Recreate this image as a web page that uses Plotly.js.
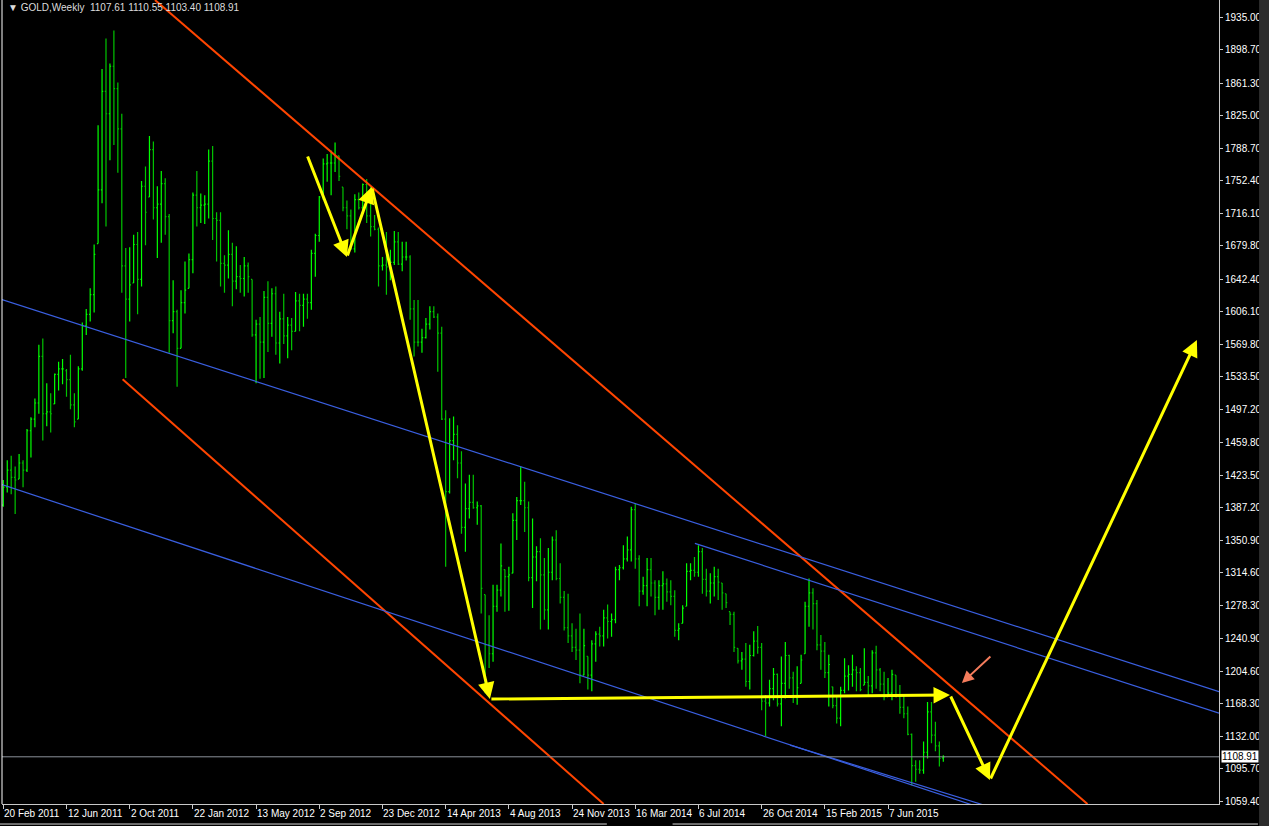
<!DOCTYPE html>
<html><head><meta charset="utf-8">
<script src="https://cdn.plot.ly/plotly-3.0.1.min.js"></script>
<style>html,body{margin:0;padding:0;background:#000;overflow:hidden}#chart{width:1269px;height:826px}</style>
</head><body><div id="chart"></div>
<script>
// Weekly GOLD bars, week 0 = 20 Feb 2011
const barOpen = [
1390,1410,1429,1421,1419,1437,1429,1473,1486,1504,
1556,1492,1494,1503,1536,1542,1540,1530,1502,1486,
1542,1590,1603,1625,1682,1742,1852,1827,1880,1855,
1810,1657,1620,1638,1681,1642,1746,1734,1787,1722,
1726,1749,1712,1596,1606,1565,1616,1632,1664,1736,
1722,1725,1726,1774,1710,1708,1660,1658,1670,1640,
1645,1643,1657,1642,1580,1592,1572,1622,1593,1626,
1571,1598,1579,1591,1584,1618,1613,1620,1616,1671,
1691,1734,1771,1772,1772,1780,1745,1722,1713,1676,
1731,1722,1748,1713,1701,1698,1657,1658,1656,1661,
1684,1659,1667,1667,1609,1572,1572,1577,1592,1606,
1600,1582,1486,1405,1462,1469,1437,1365,1386,1393,
1387,1389,1290,1234,1224,1277,1295,1318,1310,1314,
1373,1395,1395,1387,1309,1332,1338,1312,1273,1315,
1351,1308,1287,1253,1244,1231,1228,1200,1221,1200,
1235,1246,1244,1264,1260,1262,1318,1320,1330,1340,
1385,1330,1294,1300,1318,1303,1287,1300,1302,1293,
1288,1250,1258,1277,1316,1317,1315,1338,1307,1294,
1303,1310,1303,1291,1271,1268,1230,1216,1218,1193,
1222,1238,1231,1171,1169,1185,1201,1168,1191,1222,
1197,1175,1191,1224,1277,1292,1280,1234,1227,1203,
1187,1166,1152,1183,1199,1201,1206,1203,1189,1192,
1188,1225,1206,1190,1176,1180,1200,1176,1164,1157,
1134,1099,1095,1094,1114,1159,1133,1121,1107.61];
const barHigh = [
1418,1440,1445,1433,1447,1440,1475,1488,1509,1569,
1576,1526,1515,1537,1550,1553,1542,1558,1515,1545,
1594,1609,1632,1681,1814,1877,1911,1883,1920,1862,
1827,1677,1678,1692,1695,1752,1768,1802,1796,1746,
1763,1755,1715,1641,1608,1630,1662,1671,1739,1763,
1738,1736,1787,1791,1717,1717,1669,1697,1683,1679,
1658,1667,1661,1642,1597,1600,1629,1640,1632,1634,
1606,1626,1600,1599,1628,1626,1626,1626,1675,1693,
1735,1777,1782,1786,1795,1780,1745,1730,1720,1737,
1739,1749,1754,1746,1714,1700,1667,1695,1675,1696,
1695,1684,1684,1669,1619,1619,1587,1599,1612,1612,
1604,1589,1496,1487,1489,1479,1450,1414,1424,1424,
1394,1390,1290,1267,1301,1301,1347,1318,1321,1381,
1399,1433,1416,1394,1375,1344,1353,1331,1342,1355,
1362,1325,1294,1291,1258,1252,1269,1252,1221,1239,
1249,1254,1273,1279,1269,1321,1323,1345,1355,1388,
1392,1334,1310,1331,1331,1306,1306,1316,1308,1306,
1295,1258,1278,1325,1325,1332,1345,1342,1319,1314,
1321,1319,1303,1291,1271,1271,1230,1226,1236,1234,
1249,1255,1236,1178,1195,1208,1202,1221,1237,1223,
1204,1210,1223,1282,1308,1297,1284,1245,1237,1223,
1187,1176,1187,1219,1211,1223,1210,1208,1230,1199,
1228,1233,1208,1204,1197,1206,1200,1189,1178,1165,
1135,1105,1105,1126,1170,1170,1148,1126,1110.55];
const barLow = [
1388,1404,1402,1380,1419,1410,1427,1443,1477,1492,
1462,1478,1471,1503,1518,1525,1511,1497,1477,1486,
1540,1580,1595,1605,1682,1727,1701,1775,1792,1761,
1627,1532,1595,1638,1603,1634,1680,1734,1709,1666,
1683,1692,1560,1582,1522,1565,1604,1632,1649,1701,
1705,1704,1710,1686,1662,1634,1627,1643,1612,1631,
1627,1623,1627,1578,1526,1531,1532,1561,1578,1558,
1548,1570,1554,1563,1584,1584,1589,1598,1608,1645,
1684,1731,1751,1736,1762,1752,1718,1698,1675,1672,
1720,1718,1705,1690,1697,1634,1652,1625,1641,1658,
1658,1651,1663,1597,1556,1567,1560,1576,1586,1599,
1539,1485,1321,1403,1440,1420,1358,1338,1375,1386,
1368,1269,1180,1208,1215,1271,1288,1271,1272,1314,
1351,1390,1360,1305,1275,1305,1251,1262,1251,1306,
1306,1280,1250,1236,1226,1217,1191,1200,1184,1182,
1215,1232,1232,1241,1243,1258,1306,1318,1327,1327,
1319,1277,1290,1277,1288,1267,1273,1273,1282,1278,
1243,1239,1258,1277,1306,1310,1310,1291,1288,1280,
1288,1284,1273,1275,1256,1226,1213,1206,1187,1184,
1221,1224,1161,1132,1165,1172,1165,1143,1174,1185,
1169,1167,1191,1224,1254,1251,1228,1206,1197,1165,
1163,1146,1143,1180,1183,1187,1182,1182,1189,1176,
1180,1185,1182,1172,1176,1172,1175,1157,1152,1133,
1077,1081,1090,1090,1107,1124,1115,1098,1103.40];
const barClose = [
1410,1429,1421,1418,1437,1429,1473,1486,1504,1556,
1492,1494,1492,1536,1542,1542,1530,1502,1483,1542,
1590,1603,1625,1670,1742,1852,1827,1880,1855,1810,
1657,1620,1636,1681,1642,1746,1717,1787,1722,1726,
1749,1712,1596,1606,1565,1616,1630,1664,1736,1722,
1725,1726,1774,1710,1708,1660,1658,1670,1640,1645,
1643,1657,1645,1580,1592,1572,1622,1593,1626,1571,
1598,1579,1591,1584,1618,1613,1620,1616,1671,1691,
1734,1771,1772,1772,1780,1757,1722,1713,1676,1731,
1722,1748,1713,1701,1698,1657,1658,1656,1661,1684,
1659,1667,1667,1609,1572,1572,1577,1592,1606,1600,
1582,1486,1405,1462,1469,1437,1365,1386,1393,1387,
1389,1297,1234,1224,1277,1295,1322,1310,1312,1373,
1395,1395,1387,1309,1332,1338,1312,1273,1315,1351,
1308,1287,1253,1244,1231,1228,1200,1233,1200,1235,
1246,1244,1264,1260,1262,1318,1320,1330,1340,1385,
1330,1294,1300,1318,1303,1287,1300,1302,1293,1288,
1250,1252,1275,1316,1317,1315,1338,1307,1294,1303,
1310,1304,1292,1281,1268,1231,1216,1218,1193,1222,
1238,1231,1171,1169,1185,1201,1168,1191,1222,1197,
1175,1186,1217,1277,1292,1280,1234,1227,1203,1212,
1166,1152,1183,1199,1201,1206,1203,1184,1192,1188,
1225,1206,1190,1176,1180,1201,1176,1164,1157,1134,
1099,1095,1094,1114,1159,1133,1121,1107,1108.91];
const weekIdx = barClose.map((_, k) => k);

// Time axis labels (week index of each label)
const xLabelWeeks = [0,16,32,48,64,80,96,112,128,144,160,176,192,208,224];
const xLabels = ['20 Feb 2011','12 Jun 2011','2 Oct 2011','22 Jan 2012','13 May 2012','2 Sep 2012','23 Dec 2012','14 Apr 2013','4 Aug 2013','24 Nov 2013','16 Mar 2014','6 Jul 2014','26 Oct 2014','15 Feb 2015','7 Jun 2015'];
// Price axis labels
const yLabels = ['1935.00','1898.70','1861.30','1825.00','1788.70','1752.40','1716.10','1679.80','1642.40','1606.10','1569.80','1533.50','1497.20','1459.80','1423.50','1387.20','1350.90','1314.60','1278.30','1240.90','1204.60','1168.30','1132.00','1095.70','1059.40'];
const lastPrice = 1108.91;
const headerText = '\u25BC GOLD,Weekly  1107.61 1110.55 1103.40 1108.91';

// Drawn objects (week index, price)
const redLinesX = [[38.4, 274.5], [30.2, 152.0]];
const redLinesY = [[1954, 1056.2], [1530.4, 1056.2]];
const blueLinesX = [[-0.33, 307.8], [175.1, 307.8], [-0.33, 252.3], [199.2, 252.3]];
const blueLinesY = [[1619.4, 1181.7], [1347.3, 1157.7], [1412.8, 1045.0], [1122.0, 1049.5]];
const yellowPathX = [76.9, 87.0, 93.3, 123.2, 239.7, 249.8, 302.2];
const yellowPathY = [1780.9, 1667.0, 1745.2, 1173.4, 1177.9, 1083.0, 1574.3];
const coralArrowX = [250.3, 242.7];
const coralArrowY = [1222.5, 1191.3];

const trace = {
  type: 'ohlc', x: weekIdx, open: barOpen, high: barHigh, low: barLow, close: barClose,
  increasing: {line: {color: '#00ff00', width: 1.2}},
  decreasing: {line: {color: '#00c400', width: 1.2}},
  tickwidth: 0.3, hoverinfo: 'skip', showlegend: false
};

const shapes = [];
redLinesX.forEach((xs, k) => shapes.push({type: 'line', xref: 'x', yref: 'y', x0: xs[0], x1: xs[1], y0: redLinesY[k][0], y1: redLinesY[k][1], line: {color: '#ff4500', width: 2}}));
blueLinesX.forEach((xs, k) => shapes.push({type: 'line', xref: 'x', yref: 'y', x0: xs[0], x1: xs[1], y0: blueLinesY[k][0], y1: blueLinesY[k][1], line: {color: '#3a5fe0', width: 1.2}}));
shapes.push({type: 'line', xref: 'paper', yref: 'y', x0: 0, x1: 1, y0: lastPrice, y1: lastPrice, line: {color: '#8a9099', width: 1}});
shapes.push({type: 'line', xref: 'paper', yref: 'paper', x0: 0, x1: 0, y0: 0, y1: 1, line: {color: '#ffffff', width: 1}});
shapes.push({type: 'rect', xref: 'paper', yref: 'paper', x0: 1.0329, x1: 1.05, y0: -0.03, y1: 1, fillcolor: '#2c2c2c', line: {width: 0}});
shapes.push({type: 'line', xref: 'paper', yref: 'paper', x0: -0.002, x1: 0.497, y0: -0.0249, y1: -0.0249, line: {color: '#d8d8d8', width: 1}});
shapes.push({type: 'line', xref: 'paper', yref: 'paper', x0: 0.551, x1: 1.032, y0: -0.0249, y1: -0.0249, line: {color: '#d8d8d8', width: 1}});

const annotations = [];
xLabelWeeks.forEach((w, k) => annotations.push({x: w, xref: 'x', y: 0, yref: 'paper', xanchor: 'left', yanchor: 'top', yshift: -2, xshift: -1, text: xLabels[k], showarrow: false, font: {family: 'Liberation Sans, Arial, sans-serif', size: 10, color: '#ffffff'}}));
for (let k = 0; k + 1 < yellowPathX.length; k++) {
  annotations.push({x: yellowPathX[k + 1], y: yellowPathY[k + 1], ax: yellowPathX[k], ay: yellowPathY[k], xref: 'x', yref: 'y', axref: 'x', ayref: 'y', text: '', showarrow: true, arrowhead: 2, arrowsize: 1.1, arrowwidth: 3, arrowcolor: '#ffff00'});
}
annotations.push({x: coralArrowX[1], y: coralArrowY[1], ax: coralArrowX[0], ay: coralArrowY[0], xref: 'x', yref: 'y', axref: 'x', ayref: 'y', text: '', showarrow: true, arrowhead: 2, arrowsize: 1.2, arrowwidth: 2, arrowcolor: '#f47c5c'});
annotations.push({x: 1, xref: 'paper', y: lastPrice, yref: 'y', xanchor: 'left', yanchor: 'middle', xshift: 2, text: lastPrice.toFixed(2), showarrow: false, bgcolor: '#ffffff', borderpad: 0, font: {family: 'Liberation Sans, Arial, sans-serif', size: 10, color: '#000000'}});
annotations.push({x: 0, xref: 'paper', y: 1, yref: 'paper', xanchor: 'left', yanchor: 'top', xshift: 4, yshift: 0, text: headerText, showarrow: false, font: {family: 'Liberation Sans, Arial, sans-serif', size: 10, color: '#dcdcdc'}});

const layout = {
  width: 1269, height: 826,
  paper_bgcolor: '#000000', plot_bgcolor: '#000000',
  margin: {l: 2, r: 50, t: 0, b: 22, pad: 0},
  showlegend: false,
  xaxis: {range: [-0.33, 307.8], tickmode: 'array', tickvals: xLabelWeeks, showticklabels: false, ticks: 'outside', ticklen: 4, tickcolor: '#c8c8c8', showgrid: false, zeroline: false, showline: true, linecolor: '#c8c8c8', linewidth: 1, rangeslider: {visible: false}, fixedrange: true},
  yaxis: {side: 'right', range: [1056.2, 1954], tickmode: 'array', tickvals: yLabels.map(Number), ticktext: yLabels, ticks: 'outside', ticklen: 3, tickcolor: '#c8c8c8', tickfont: {family: 'Liberation Sans, Arial, sans-serif', size: 10, color: '#ffffff'}, showgrid: false, zeroline: false, showline: true, linecolor: '#c8c8c8', linewidth: 1, fixedrange: true},
  shapes: shapes, annotations: annotations
};
Plotly.newPlot('chart', [trace], layout, {displayModeBar: false, staticPlot: true});
</script></body></html>
